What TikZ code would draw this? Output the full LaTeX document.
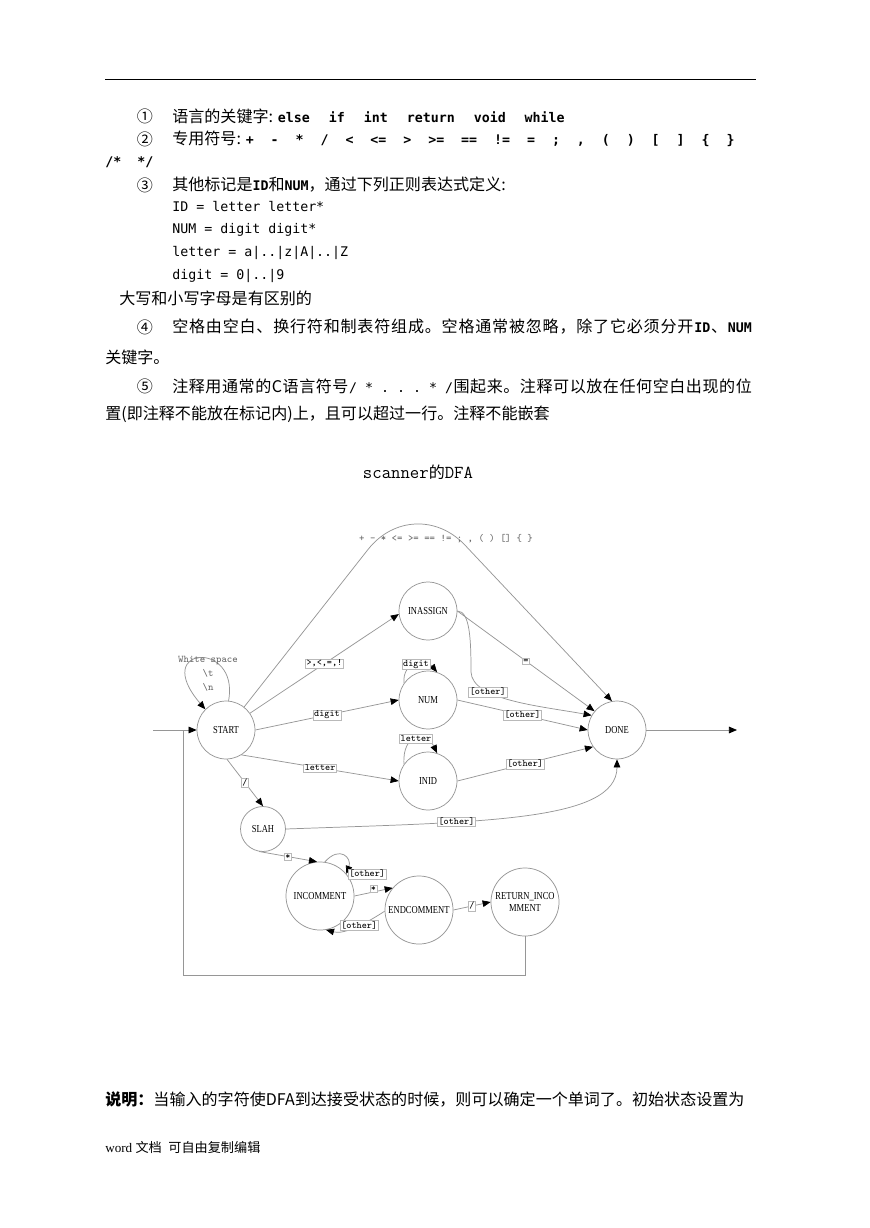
\documentclass[tikz,border=0pt]{standalone}
\usepackage{fontspec}
\setmainfont{Liberation Serif}
\newfontfamily\cjk{Noto Sans CJK SC}
\newfontfamily\kwfont{DejaVu Sans Mono}
\newfontfamily\labfont{Latin Modern Mono}
\newfontfamily\statefont[FakeStretch=0.8]{Liberation Serif}
\usetikzlibrary{arrows.meta,positioning}
\definecolor{edgegray}{RGB}{150,150,150}
\definecolor{boxgray}{RGB}{185,185,185}
\definecolor{notegray}{RGB}{105,105,105}
\newcommand\kw[1]{{\kwfont\bfseries\fontsize{9.1}{11}\selectfont #1}}
\newcommand\plaincode[1]{{\kwfont\fontsize{9.1}{11}\selectfont #1}}
\newcommand\kwsep{\hspace{13pt}}
\newcommand\symsep{\hspace{11.6pt}}
% justified line: glue between every character, set to a fixed width
\ExplSyntaxOn
\NewDocumentCommand\spreadto{mm}{\makebox[#1][s]{\tl_map_inline:nn{#2}{##1\hfil}\unskip}}
\ExplSyntaxOff

\begin{document}
\begin{tikzpicture}[
        x=0.685pt, y=-0.685pt,
        txt/.style={anchor=west, inner sep=0pt, font=\cjk\fontsize{11}{13}\selectfont},
        code/.style={anchor=west, inner sep=0pt, font=\kwfont\fontsize{9.1}{11}\selectfont},
        circnum/.style={inner sep=0pt, font=\cjk\fontsize{11}{13}\selectfont},
        state/.style={circle, draw=edgegray, line width=0.5pt, inner sep=0pt, minimum size=39.7pt, align=center, font=\statefont\fontsize{7.3}{8.6}\selectfont},
        smallstate/.style={state, minimum size=30.8pt},
        bigstate/.style={state, minimum size=46.6pt},
        lab/.style={draw=boxgray, fill=white, line width=0.4pt, inner sep=0.8pt, font=\labfont\fontsize{6.6}{7.5}\selectfont},
        arcnote/.style={text=notegray, inner sep=0pt, align=center, font=\labfont\fontsize{7}{9.6}\selectfont},
        arr/.style={draw=edgegray, line width=0.5pt, -{Triangle[length=5.5pt, width=4.5pt, color=black]}},
        wire/.style={draw=edgegray, line width=0.5pt}
    ]
        \path[use as bounding box, fill=white] (0,0) rectangle (869,1228);

        % Page header rule
        \draw[line width=0.6pt] (105,79) -- (756,79);

        % Lexical rules text
        \node[circnum] (c1) at (145,116) {①};
        \node[txt] (t1) at (172,116) {语言的关键字: \kw{else\kwsep if\kwsep int\kwsep return\kwsep void\kwsep while}};
        \node[circnum] (c2) at (145,139) {②};
        \node[txt] (t2) at (172,139) {专用符号: \kw{+\symsep -\symsep *\symsep /\symsep <\symsep <=\symsep >\symsep >=\symsep ==\symsep !=\symsep =\symsep ;\symsep ,\symsep (\symsep )\symsep [\symsep ]\symsep \{\symsep \}}};
        \node[txt] (t2b) at (105,162) {\kw{/*\ \ */}};
        \node[circnum] (c3) at (145,185) {③};
        \node[txt] (t3) at (172,185) {其他标记是\kw{ID}和\kw{NUM}，通过下列正则表达式定义:};
        \node[code] (reID) at (172,207) {ID = letter letter*};
        \node[code] (reNUM) at (172,230) {NUM = digit digit*};
        \node[code] (reLetter) at (172,253) {letter = a|..|z|A|..|Z};
        \node[code] (reDigit) at (172,276) {digit = 0|..|9};
        \node[txt] (t3b) at (119,298) {大写和小写字母是有区别的};
        \node[circnum] (c4) at (145,327) {④};
        \node[txt] (t4) at (172,327) {\spreadto{397pt}{空格由空白、换行符和制表符组成。空格通常被忽略，除了它必须分开{\kw{ID}}、{\kw{NUM}}}};
        \node[txt] (t4b) at (105,357) {关键字。};
        \node[circnum] (c5) at (145,386) {⑤};
        \node[txt] (t5) at (172,386) {\spreadto{397pt}{注释用通常的C语言符号{\plaincode{/\ *\ .\ .\ .\ *\ /}}围起来。注释可以放在任何空白出现的位}};
        \node[txt] (t5b) at (105,414) {置(即注释不能放在标记内)上，且可以超过一行。注释不能嵌套};

        % Title
        \node[inner sep=0pt] (title) at (418,472) {{\labfont\fontsize{12.5}{14}\selectfont scanner}{\cjk\fontsize{11}{14}\selectfont 的}{\labfont\fontsize{12.5}{14}\selectfont DFA}};

        % States
        \node[state] (START) at (226,730) {START};
        \node[state] (INASSIGN) at (428,611) {INASSIGN};
        \node[state] (NUM) at (428,700) {NUM};
        \node[state] (INID) at (428,781) {INID};
        \node[state] (DONE) at (617,730) {DONE};
        \node[smallstate] (SLAH) at (263,829) {SLAH};
        \node[bigstate] (INCOMMENT) at (320,896) {INCOMMENT};
        \node[bigstate] (ENDCOMMENT) at (419,910) {ENDCOMMENT};
        \node[bigstate] (RETURN) at (525,902) {RETURN\_INCO\\MMENT};

        \coordinate (entry) at (153,730);
        \coordinate (joint) at (183,730);
        \coordinate (back) at (183,975);
        \coordinate (exit) at (737,730);

        % Transitions
        \draw[arr] (entry) -- (START);
        \draw[arr] (START.85) .. controls (240,640) and (150,645) .. (START.135);
        \node[arcnote] (wspace) at (208,674) {White space\\\textbackslash t\\\textbackslash n};
        \draw[arr, rounded corners=51pt] (START) -- (414,491) -- (DONE.100);
        \node[arcnote] (symlist) at (446,539) {+ - * <= >= == != ; , ( ) [] \{ \}};
        \draw[arr] (START.35) -- (INASSIGN.186) node[lab, midway] {>,<,=,!};
        \draw[arr] (START.east) -- (NUM.west) node[lab, midway] {digit};
        \draw[arr] (START.-58) -- (INID.west) node[lab, midway] {letter};
        \draw[arr] (START.-88) -- (SLAH.north) node[lab, midway] {/};
        \draw[arr] (INASSIGN.east) -- (DONE.140) node[lab, midway] {=};
        \draw[arr] (INASSIGN.east) .. controls (470,611) and (471,640) .. (471,672)
            .. controls (472,700) and (540,706) .. (DONE.150) node[lab, pos=0.3] {[other]};
        \draw[arr] (NUM.145) .. controls (402,660) and (427,660) .. (NUM.72) node[lab, pos=0.5] {digit};
        \draw[arr] (INID.145) .. controls (402,732) and (427,732) .. (INID.72) node[lab, pos=0.5] {letter};
        \draw[arr] (NUM.east) -- (DONE.west) node[lab, midway] {[other]};
        \draw[arr] (INID.east) -- (DONE.-145) node[lab, midway] {[other]};
        \draw[arr] (SLAH.east) .. controls (480,822) and (617,822) .. (DONE.south) node[lab, pos=0.33] {[other]};
        \draw[arr] (DONE.east) -- (exit);
        \draw[arr] (SLAH.-100) -- (INCOMMENT.95) node[lab, midway] {*};
        \draw[arr] (INCOMMENT.82) .. controls (340,845) and (352,858) .. (INCOMMENT.40) node[lab, pos=1, anchor=west, xshift=1pt] {[other]};
        \draw[arr] (INCOMMENT.east) -- (ENDCOMMENT.140) node[lab, midway, yshift=2pt] {*};
        \draw[arr] (ENDCOMMENT.182) .. controls (368,922) and (345,935) .. (INCOMMENT.-80) node[lab, pos=0.45] {[other]};
        \draw[arr] (ENDCOMMENT.east) -- (RETURN.west) node[lab, midway] {/};
        \draw[wire] (RETURN.south) |- (back) -- (joint);

        % Footer text
        \node[txt] (expl) at (105,1099) {{\bfseries 说明：}当输入的字符使DFA到达接受状态的时候，则可以确定一个单词了。初始状态设置为};
        \node[anchor=west, inner sep=0pt, font=\fontsize{9}{11}\selectfont] (foot) at (105,1147) {word {\cjk 文档}\ \ {\cjk 可自由复制编辑}};
    \end{tikzpicture}
\end{document}
